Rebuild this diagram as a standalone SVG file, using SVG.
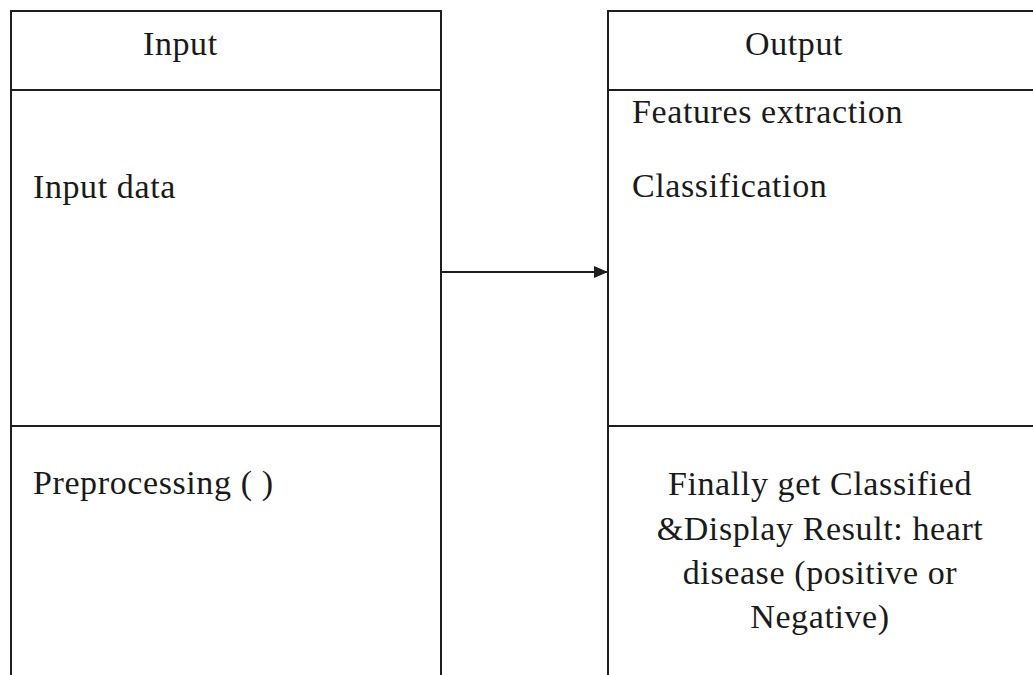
<svg xmlns="http://www.w3.org/2000/svg" width="1033" height="675" viewBox="0 0 1033 675">
<style>
.ln{stroke:#1e1e1e;stroke-width:2;fill:none}
.t{font-family:"Liberation Serif","Times New Roman",serif;font-size:34px;letter-spacing:0.6px;fill:#1a1a1a}
.c{text-anchor:middle}
</style>
<defs>
<marker id="ah" markerWidth="14" markerHeight="12" refX="13" refY="6" orient="auto" markerUnits="userSpaceOnUse">
<polygon points="0,0 14,6 0,12" fill="#1e1e1e"/>
</marker>
</defs>
<rect width="1033" height="675" fill="#fff"/>
<g id="input-box">
<path class="ln" d="M11,676 V11 H441 V676 M11,90 H441 M11,426 H441"/>
<text class="t" x="143" y="55">Input</text>
<text class="t" x="33" y="198">Input data</text>
<text class="t" x="33" y="494">Preprocessing ( )</text>
</g>
<g id="output-box">
<path class="ln" d="M608,676 V11 H1034 M608,90 H1034 M608,426 H1034"/>
<text class="t" x="745" y="55">Output</text>
<text class="t" x="632" y="123">Features extraction</text>
<text class="t" x="632" y="197">Classification</text>
<text class="t c" x="820" y="495">Finally get Classified</text>
<text class="t c" x="820" y="540">&amp;Display Result: heart</text>
<text class="t c" x="820" y="584">disease (positive or</text>
<text class="t c" x="820" y="628">Negative)</text>
</g>
<g id="connectors">
<line class="ln" x1="441" y1="272" x2="607" y2="272" marker-end="url(#ah)"/>
</g>
</svg>
